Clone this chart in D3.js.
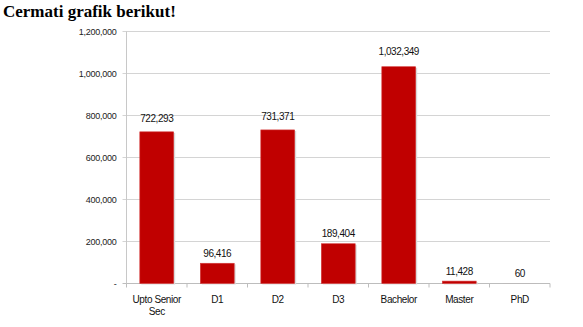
<!DOCTYPE html>
<html>
<head>
<meta charset="utf-8">
<script src="https://cdn.jsdelivr.net/npm/d3@7"></script>
<style>
  body { margin: 0; background: #fff; }
  h3 { font-family: "Liberation Serif", "Times New Roman", serif; font-weight: bold; font-size: 17px; margin: 0; position: absolute; left: 3px; top: 2px; }
  svg { position: absolute; left: 0; top: 0; }
</style>
</head>
<body>
<h3>Cermati grafik berikut!</h3>
<div id="chart"></div>
<script>
// jumlah lulusan per jenjang pendidikan
let categories = ["Upto Senior Sec", "D1", "D2", "D3", "Bachelor", "Master", "PhD"];
let values = [722293, 96416, 731371, 189404, 1032349, 11428, 60];
let yTicks = [0, 200000, 400000, 600000, 800000, 1000000, 1200000];

let w = 583, h = 327;
let plotLeft = 126.5, plotRight = 550, plotTop = 31.5, plotBottom = 283.5;

let svg = d3.select("#chart").append("svg")
  .attr("width", w)
  .attr("height", h);

let x = d3.scaleBand()
  .domain(categories)
  .range([plotLeft, plotRight])
  .paddingInner(0.44)
  .paddingOuter(0.22);

let y = d3.scaleLinear()
  .domain([0, 1200000])
  .range([plotBottom, plotTop]);

let fmt = d3.format(",");
let font = "Liberation Sans, Arial, sans-serif";

// garis grid horizontal
svg.append("g")
  .selectAll("line")
  .data(yTicks)
  .enter()
  .append("line")
  .attr("x1", plotLeft - 4)
  .attr("x2", plotRight)
  .attr("y1", d => y(d))
  .attr("y2", d => y(d))
  .attr("stroke", d => d == 0 ? "#bdbdbd" : "#d4d4d4")
  .attr("stroke-width", 1);

// label sumbu y
svg.append("g")
  .selectAll("text")
  .data(yTicks)
  .enter()
  .append("text")
  .attr("x", plotLeft - 10)
  .attr("y", d => y(d) + 3.2)
  .attr("text-anchor", "end")
  .style("font-family", font)
  .style("font-size", "9px")
  .style("letter-spacing", "-0.25px")
  .attr("fill", "#222")
  .text(d => d == 0 ? "-" : fmt(d));

// garis sumbu y
svg.append("line")
  .attr("x1", plotLeft).attr("x2", plotLeft)
  .attr("y1", plotTop).attr("y2", plotBottom)
  .attr("stroke", "#c8c8c8");

// tick kategori di bawah
let bounds = d3.range(categories.length + 1).map(i => plotLeft + i * (plotRight - plotLeft) / categories.length);
svg.append("g")
  .selectAll("line")
  .data(bounds)
  .enter()
  .append("line")
  .attr("x1", d => d).attr("x2", d => d)
  .attr("y1", plotBottom).attr("y2", plotBottom + 4)
  .attr("stroke", "#bdbdbd");

// bayangan batang
svg.append("g")
  .selectAll("rect")
  .data(values)
  .enter()
  .append("rect")
  .attr("x", (d, i) => x(categories[i]) + 1.5)
  .attr("y", d => y(d) + 1)
  .attr("width", x.bandwidth())
  .attr("height", d => plotBottom - y(d))
  .attr("fill", "#d9d9d9");

// batang (tanpa garis tepi kalau batangnya nyaris nol)
svg.append("g")
  .selectAll("rect")
  .data(values)
  .enter()
  .append("rect")
  .attr("x", (d, i) => x(categories[i]))
  .attr("y", d => y(d))
  .attr("width", x.bandwidth())
  .attr("height", d => plotBottom - y(d))
  .attr("fill", "#c00000")
  .attr("stroke", d => plotBottom - y(d) > 1 ? "#d43a3a" : "none")
  .attr("stroke-width", 0.6);

// label nilai (jarak ke batang sedikit bertambah untuk batang tinggi)
svg.append("g")
  .selectAll("text")
  .data(values)
  .enter()
  .append("text")
  .attr("x", (d, i) => x(categories[i]) + x.bandwidth() / 2)
  .attr("y", d => y(d) - 6 - d / 1200000 * 7)
  .attr("text-anchor", "middle")
  .style("font-family", font)
  .style("font-size", "10px")
  .style("letter-spacing", "-0.45px")
  .attr("fill", "#111")
  .text(d => fmt(d));

// label kategori
let catLabels = svg.append("g")
  .selectAll("text")
  .data(categories)
  .enter()
  .append("text")
  .attr("x", d => x(d) + x.bandwidth() / 2)
  .attr("y", 302.5)
  .attr("text-anchor", "middle")
  .style("font-family", font)
  .style("font-size", "10px")
  .style("letter-spacing", "-0.4px")
  .attr("fill", "#111");

catLabels.each(function(d) {
  let t = d3.select(this);
  let parts = d == "Upto Senior Sec" ? ["Upto Senior", "Sec"] : [d];
  parts.forEach((p, i) => {
    t.append("tspan")
      .attr("x", x(d) + x.bandwidth() / 2)
      .attr("dy", i == 0 ? 0 : 12.5)
      .text(p);
  });
});
</script>
</body>
</html>
